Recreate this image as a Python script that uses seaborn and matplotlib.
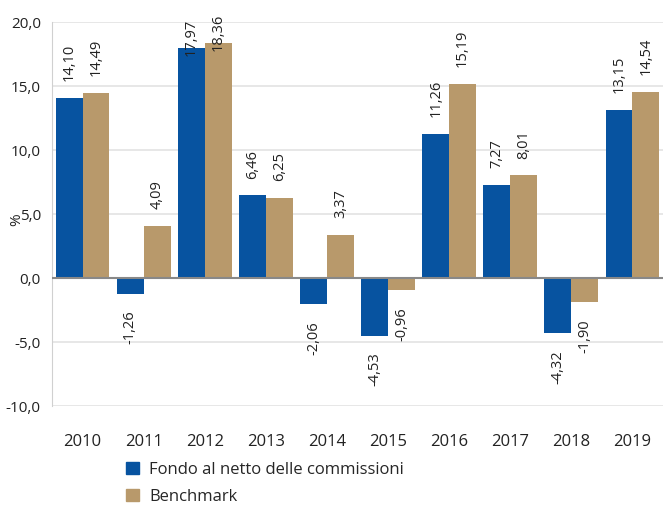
import matplotlib
matplotlib.use("Agg")
import matplotlib.pyplot as plt
import seaborn as sns
import pandas as pd
from matplotlib.patches import Patch

years = ["2010", "2011", "2012", "2013", "2014", "2015", "2016", "2017", "2018", "2019"]
fondo = [14.10, -1.26, 17.97, 6.46, -2.06, -4.53, 11.26, 7.27, -4.32, 13.15]
benchmark = [14.49, 4.09, 18.36, 6.25, 3.37, -0.96, 15.19, 8.01, -1.90, 14.54]
series = ["Fondo al netto delle commissioni", "Benchmark"]
colors = ["#0753A0", "#B8996B"]

df = pd.DataFrame({
    "year": years * 2,
    "value": fondo + benchmark,
    "series": [series[0]] * len(years) + [series[1]] * len(years),
})

sns.set_style("white")
plt.rcParams["font.family"] = ["Open Sans", "DejaVu Sans"]

fig = plt.figure(figsize=(6.63, 5.05), dpi=100)
ax = fig.add_axes([0.0784, 0.196, 0.9216, 0.7604])

sns.barplot(data=df, x="year", y="value", hue="series", palette=colors,
            width=0.88, ax=ax, legend=False, saturation=1, errorbar=None,
            linewidth=0)

ax.set_ylim(-10, 20)
ax.set_xlim(-0.5, len(years) - 0.5)

fmt = lambda v: f"{v:.2f}".replace(".", ",")
# pixels per data unit (for overflow check)
px_per_unit = 384 / 30.0
top_px_avail = (20 - 0) * px_per_unit + 22  # distance from zero line to figure top
for cont in ax.containers:
    for bar in cont:
        h = bar.get_height()
        x = bar.get_x() + bar.get_width() / 2
        if h >= 0:
            needed = h * px_per_unit + 16 + 40
            if needed > top_px_avail:
                ax.annotate(fmt(h), (x, h), xytext=(0, -6), textcoords="offset points",
                            rotation=90, ha="center", va="bottom", fontsize=10.5,
                            color="#222222", annotation_clip=False)
            else:
                ax.annotate(fmt(h), (x, h), xytext=(0, 12), textcoords="offset points",
                            rotation=90, ha="center", va="bottom", fontsize=10.5,
                            color="#222222", annotation_clip=False)
        else:
            ax.annotate(fmt(h), (x, h), xytext=(0, -12), textcoords="offset points",
                        rotation=90, ha="center", va="top", fontsize=10.5, color="#222222")

yt = [-10, -5, 0, 5, 10, 15, 20]
ax.set_yticks(yt)
ax.set_yticklabels([f"{v:.1f}".replace(".", ",") for v in yt], fontsize=11, color="#222222")
ax.tick_params(axis="x", labelsize=12, colors="#222222", length=0, pad=20)
ax.tick_params(axis="y", length=0, pad=8)
ax.set_xlabel("")
ax.set_ylabel("")
fig.text(17 / 663, 1 - 220 / 505, "%", rotation=90, ha="center", va="center",
         fontsize=11, color="#222222")

ax.grid(axis="y", color="#E3E3E3", linewidth=1.2)
ax.set_axisbelow(True)
for s in ["top", "right", "bottom"]:
    ax.spines[s].set_visible(False)
ax.spines["left"].set_color("#D0D0D0")
ax.axhline(0, color="#888888", linewidth=1.5, zorder=3)

handles = [Patch(color=c, label=l) for c, l in zip(colors, series)]
fig.legend(handles=handles, loc="upper left", bbox_to_anchor=(0.180, 0.099),
           frameon=False, fontsize=12, handlelength=0.8, handleheight=0.8,
           handletextpad=0.6, labelspacing=0.65, borderaxespad=0)

fig.savefig("out.png", dpi=100)
